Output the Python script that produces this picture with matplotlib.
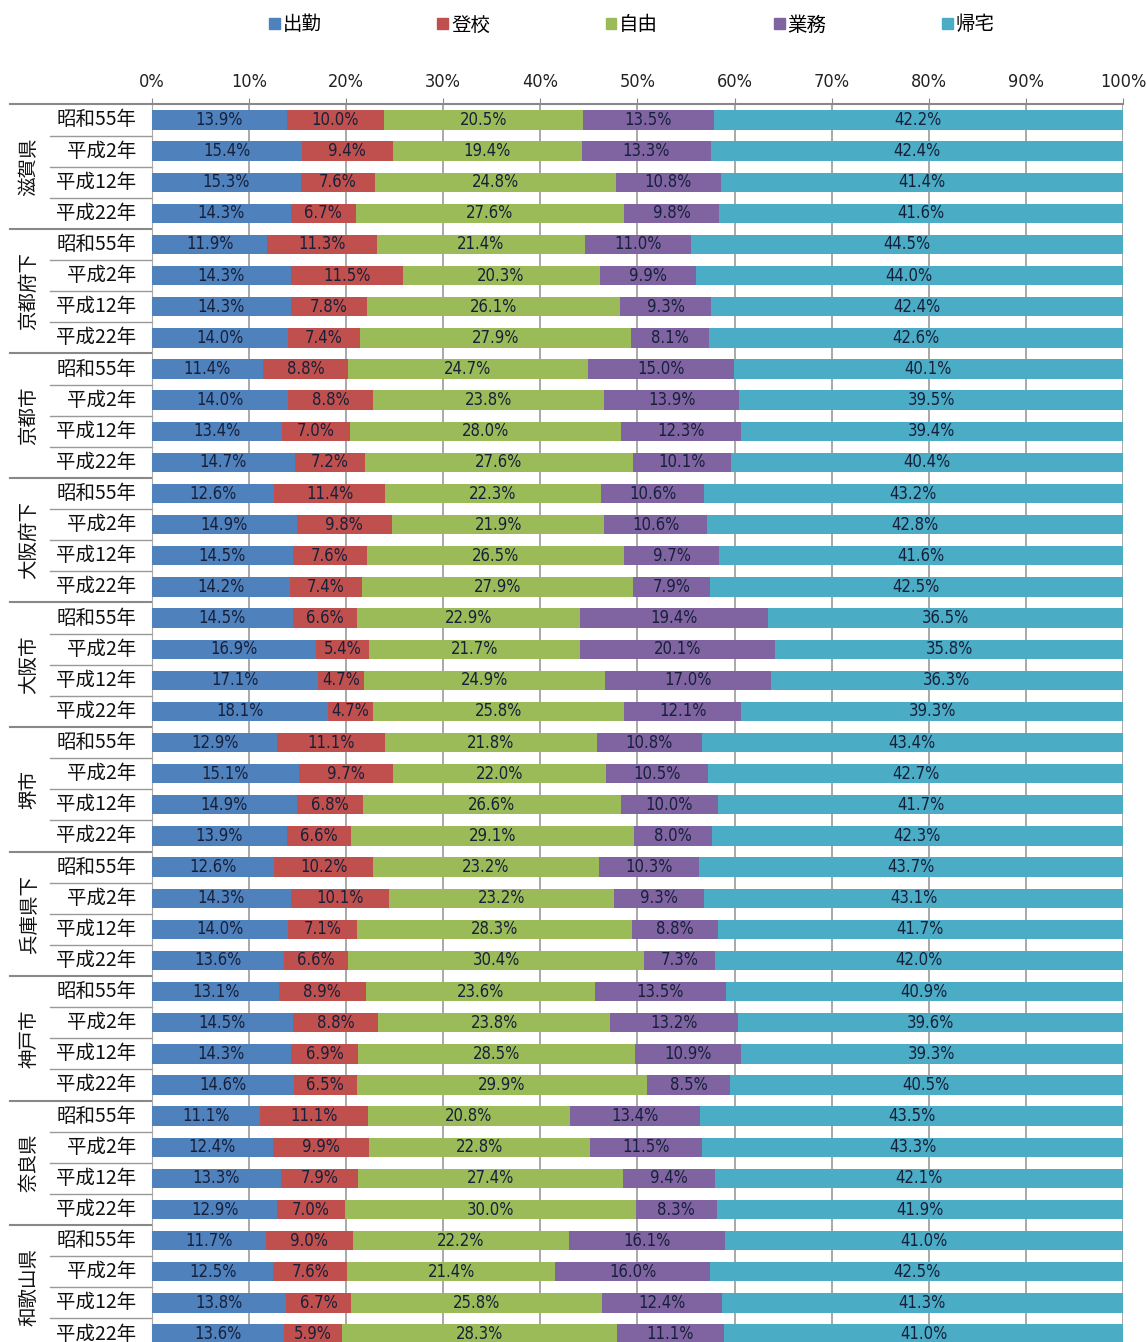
import matplotlib
matplotlib.use("Agg")
import matplotlib.pyplot as plt
import matplotlib.transforms as mtransforms
from matplotlib.patches import Rectangle
from matplotlib import font_manager
import numpy as np

regions = ["滋賀県", "京都府下", "京都市", "大阪府下", "大阪市", "堺市", "兵庫県下", "神戸市", "奈良県", "和歌山県"]
years = ["昭和55年", "平成2年", "平成12年", "平成22年"]
series_names = ["出勤", "登校", "自由", "業務", "帰宅"]
colors = ["#4F81BD", "#C0504D", "#9BBB59", "#8064A2", "#4BACC6"]

shukkin = [13.9, 15.4, 15.3, 14.3, 11.9, 14.3, 14.3, 14.0, 11.4, 14.0, 13.4, 14.7,
           12.6, 14.9, 14.5, 14.2, 14.5, 16.9, 17.1, 18.1, 12.9, 15.1, 14.9, 13.9,
           12.6, 14.3, 14.0, 13.6, 13.1, 14.5, 14.3, 14.6, 11.1, 12.4, 13.3, 12.9,
           11.7, 12.5, 13.8, 13.6]
toukou = [10.0, 9.4, 7.6, 6.7, 11.3, 11.5, 7.8, 7.4, 8.8, 8.8, 7.0, 7.2,
          11.4, 9.8, 7.6, 7.4, 6.6, 5.4, 4.7, 4.7, 11.1, 9.7, 6.8, 6.6,
          10.2, 10.1, 7.1, 6.6, 8.9, 8.8, 6.9, 6.5, 11.1, 9.9, 7.9, 7.0,
          9.0, 7.6, 6.7, 5.9]
jiyuu = [20.5, 19.4, 24.8, 27.6, 21.4, 20.3, 26.1, 27.9, 24.7, 23.8, 28.0, 27.6,
         22.3, 21.9, 26.5, 27.9, 22.9, 21.7, 24.9, 25.8, 21.8, 22.0, 26.6, 29.1,
         23.2, 23.2, 28.3, 30.4, 23.6, 23.8, 28.5, 29.9, 20.8, 22.8, 27.4, 30.0,
         22.2, 21.4, 25.8, 28.3]
gyoumu = [13.5, 13.3, 10.8, 9.8, 11.0, 9.9, 9.3, 8.1, 15.0, 13.9, 12.3, 10.1,
          10.6, 10.6, 9.7, 7.9, 19.4, 20.1, 17.0, 12.1, 10.8, 10.5, 10.0, 8.0,
          10.3, 9.3, 8.8, 7.3, 13.5, 13.2, 10.9, 8.5, 13.4, 11.5, 9.4, 8.3,
          16.1, 16.0, 12.4, 11.1]
kitaku = [42.2, 42.4, 41.4, 41.6, 44.5, 44.0, 42.4, 42.6, 40.1, 39.5, 39.4, 40.4,
          43.2, 42.8, 41.6, 42.5, 36.5, 35.8, 36.3, 39.3, 43.4, 42.7, 41.7, 42.3,
          43.7, 43.1, 41.7, 42.0, 40.9, 39.6, 39.3, 40.5, 43.5, 43.3, 42.1, 41.9,
          41.0, 42.5, 41.3, 41.0]

data = np.array([shukkin, toukou, jiyuu, gyoumu, kitaku])
share = data / data.sum(axis=0) * 100.0

n = data.shape[1]
ypos = np.arange(n)

fig = plt.figure(figsize=(11.47, 13.42), dpi=100)
W, H = 1147, 1342
x0, x1 = 152, 1123
ytop = 104.4
ybot = ytop + 40 * 31.13
ax = fig.add_axes([x0 / W, 1 - ybot / H, (x1 - x0) / W, (ybot - ytop) / H])

names = {f.name for f in font_manager.fontManager.ttflist}
if "Liberation Sans Narrow" in names:
    num_font = ["Liberation Sans Narrow", "DejaVu Sans"]
    num_stretch = "normal"
else:
    num_font = ["DejaVu Sans"]
    num_stretch = "condensed"
cjk_font = ["Noto Sans CJK JP", "DejaVu Sans"]

left = np.zeros(n)
for k in range(5):
    ax.barh(ypos, share[k], left=left, height=0.62, color=colors[k], zorder=3, linewidth=0)
    for i in range(n):
        ax.text(left[i] + share[k][i] / 2, ypos[i], f"{data[k][i]:.1f}%", ha="center", va="center",
                fontsize=12, family=num_font, stretch=num_stretch, color="#17203a", zorder=4)
    left = left + share[k]

ax.set_xlim(0, 100)
ax.set_ylim(n - 0.5, -0.5)
ax.xaxis.tick_top()
ax.set_xticks(np.arange(0, 101, 10))
ax.set_xticklabels([f"{v}%" for v in range(0, 101, 10)], family=num_font, stretch=num_stretch,
                   fontsize=13, color="#222222")
ax.tick_params(axis="x", length=4, color="#888888", pad=6)
ax.set_yticks([])
ax.grid(axis="x", color="#999999", linewidth=1.2, zorder=1)
for s in ["right", "bottom"]:
    ax.spines[s].set_visible(False)
ax.spines["top"].set_color("#888888")
ax.spines["top"].set_linewidth(1.5)
ax.spines["left"].set_color("#aaaaaa")

trans = mtransforms.blended_transform_factory(ax.transAxes, ax.transData)
xf_group = (10 - x0) / (x1 - x0)
xf_year = (50 - x0) / (x1 - x0)
xf_text = (136 - x0) / (x1 - x0)
xf_region = (29 - x0) / (x1 - x0)

for i in range(n):
    ax.text(xf_text, ypos[i], years[i % 4], transform=trans, ha="right", va="center",
            fontsize=14, family=cjk_font, color="#111111", clip_on=False)
for b in range(n + 1):
    yb = b - 0.5
    if b % 4 == 0:
        ax.plot([xf_group, 0], [yb, yb], transform=trans, color="#888888", linewidth=1.5, clip_on=False)
    else:
        ax.plot([xf_year, 0], [yb, yb], transform=trans, color="#999999", linewidth=1.0, clip_on=False)
for g, r in enumerate(regions):
    ax.text(xf_region, g * 4 + 1.5, r, transform=trans, rotation=90, ha="center", va="center",
            fontsize=14, family=cjk_font, color="#111111", clip_on=False)

# legend
handles = [Rectangle((0, 0), 1, 1, color=c) for c in colors]
fig.legend(handles, series_names, loc="center", bbox_to_anchor=(0.551, 1 - 25 / H), ncol=5,
           frameon=False, prop={"family": cjk_font, "size": 14}, handlelength=0.55, handleheight=0.55,
           handletextpad=0.15, columnspacing=5.95)

fig.savefig("out.png", dpi=100)
